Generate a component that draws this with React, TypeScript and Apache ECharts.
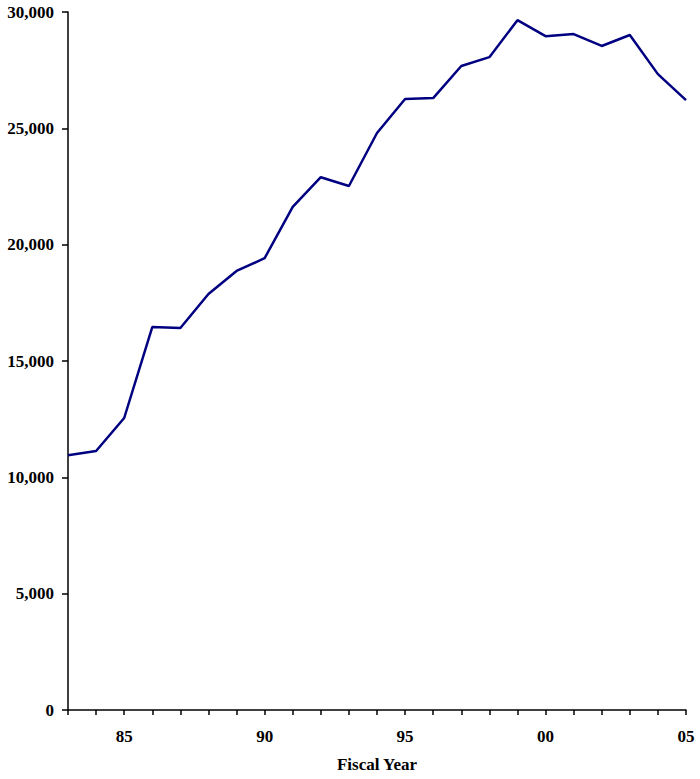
import React, { useEffect, useRef } from "react";
import * as echarts from "echarts";

const years = ["83", "84", "85", "86", "87", "88", "89", "90", "91", "92", "93", "94", "95", "96", "97", "98", "99", "00", "01", "02", "03", "04", "05"];
const values = [10950, 11130, 12550, 16460, 16420, 17880, 18870, 19420, 21620, 22900, 22520, 24800, 26260, 26300, 27680, 28060, 29650, 28960, 29050, 28540, 29010, 27330, 26210];
const labeledYears = ["85", "90", "95", "00", "05"];

export default function App() {
  const ref = useRef<HTMLDivElement>(null);
  useEffect(() => {
    if (!ref.current) return;
    const chart = echarts.init(ref.current, undefined, { renderer: "svg" });
    const font = "'Liberation Serif', 'Times New Roman', serif";
    chart.setOption({
      animation: false,
      backgroundColor: "#ffffff",
      grid: { left: 68, top: 12, width: 618, height: 698, containLabel: false },
      xAxis: {
        type: "category",
        data: years,
        boundaryGap: false,
        name: "Fiscal Year",
        nameLocation: "middle",
        nameGap: 46,
        nameTextStyle: { fontFamily: font, fontWeight: "bold", fontSize: 17, color: "#000" },
        axisLine: { lineStyle: { color: "#000", width: 1.5 } },
        axisTick: { interval: 0, length: 5, lineStyle: { color: "#000", width: 1.5 } },
        axisLabel: {
          interval: 0,
          formatter: (v: string) => (labeledYears.includes(v) ? v : ""),
          margin: 18,
          fontFamily: font,
          fontWeight: "bold",
          fontSize: 17,
          color: "#000",
        },
        splitLine: { show: false },
      },
      yAxis: {
        type: "value",
        min: 0,
        max: 30000,
        interval: 5000,
        axisLine: { show: true, lineStyle: { color: "#000", width: 1.5 } },
        axisTick: { show: true, length: 6, lineStyle: { color: "#000", width: 1.5 } },
        axisLabel: {
          margin: 14,
          fontFamily: font,
          fontWeight: "bold",
          fontSize: 17,
          color: "#000",
          formatter: (v: number) => v.toLocaleString("en-US"),
        },
        splitLine: { show: false },
      },
      series: [
        {
          type: "line",
          data: values,
          symbol: "none",
          lineStyle: { color: "#000080", width: 2.5 },
        },
      ],
    });
    return () => chart.dispose();
  }, []);
  return <div ref={ref} style={{ position: "fixed", left: 0, top: 0, width: 700, height: 779 }} />;
}
